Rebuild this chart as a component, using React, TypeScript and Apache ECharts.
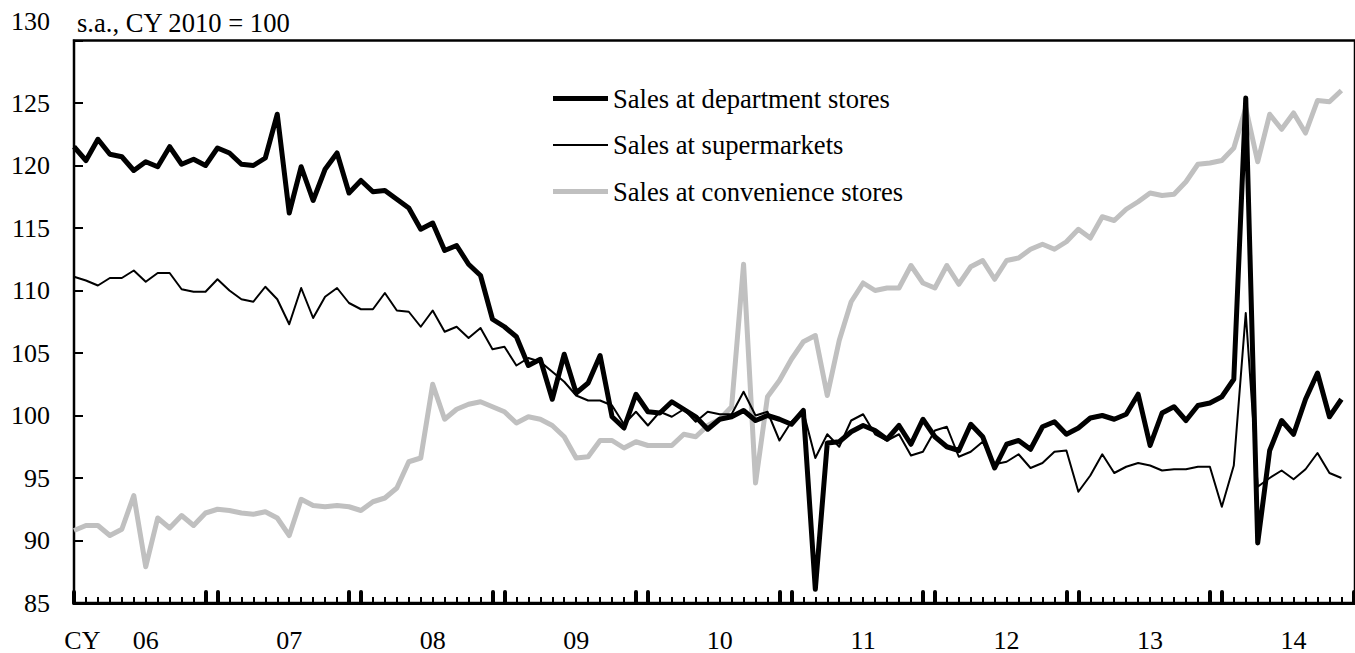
import React, { useEffect, useRef } from 'react';
import * as echarts from 'echarts';

// Monthly data, Jan 2006 .. Nov 2014 (s.a., CY2010 = 100)
const yearLabels = ['06', '07', '08', '09', '10', '11', '12', '13', '14'];
const cornerLabel = 'CY';
const titleText = 's.a., CY 2010 = 100';
const yMin = 85;
const yMax = 130;
const yStep = 5;

const seriesNames = [
  'Sales at department stores',
  'Sales at supermarkets',
  'Sales at convenience stores',
];

const department = [
  121.5, 120.4, 122.1, 120.9, 120.7, 119.6, 120.3, 119.9, 121.5, 120.1, 120.5, 120.0,
  121.4, 121.0, 120.1, 120.0, 120.6, 124.1, 116.2, 119.9, 117.2, 119.7, 121.0, 117.8,
  118.8, 117.9, 118.0, 117.3, 116.6, 114.9, 115.4, 113.2, 113.6, 112.1, 111.2, 107.7,
  107.1, 106.3, 104.0, 104.5, 101.3, 104.9, 101.8, 102.6, 104.8, 99.9, 99.0, 101.7,
  100.3, 100.2, 101.1, 100.5, 99.9, 98.9, 99.7, 99.9, 100.4, 99.6, 100.0, 99.7,
  99.3, 100.4, 86.1, 97.8, 97.9, 98.7, 99.2, 98.8, 98.1, 99.2, 97.7, 99.7,
  98.3, 97.5, 97.2, 99.3, 98.3, 95.8, 97.7, 98.0, 97.3, 99.1, 99.5, 98.5,
  99.0, 99.8, 100.0, 99.7, 100.1, 101.7, 97.6, 100.2, 100.7, 99.6, 100.8, 101.0,
  101.5, 102.9, 125.4, 89.8, 97.2, 99.6, 98.5, 101.3, 103.4, 99.9, 101.3,
];

const supermarkets = [
  111.1, 110.8, 110.4, 111.0, 111.0, 111.6, 110.7, 111.4, 111.4, 110.1, 109.9, 109.9,
  110.9, 110.0, 109.3, 109.1, 110.3, 109.3, 107.3, 110.2, 107.8, 109.5, 110.2, 109.0,
  108.5, 108.5, 109.8, 108.4, 108.3, 107.1, 108.4, 106.7, 107.1, 106.2, 107.0, 105.3,
  105.5, 104.0, 104.6, 104.3, 103.5, 102.7, 101.6, 101.2, 101.2, 100.8, 99.3, 100.3,
  99.2, 100.3, 99.9, 100.5, 99.5, 100.3, 100.1, 100.1, 101.9, 100.0, 100.3, 98.0,
  99.5, 100.3, 96.6, 98.5, 97.5, 99.6, 100.1, 98.5, 98.0, 98.5, 96.8, 97.1,
  98.8, 99.1, 96.7, 97.1, 97.9, 96.1, 96.3, 96.9, 95.8, 96.2, 97.1, 97.2,
  93.9, 95.2, 96.9, 95.4, 95.9, 96.2, 96.0, 95.6, 95.7, 95.7, 95.9, 95.9,
  92.7, 96.0, 108.2, 94.3, 95.0, 95.6, 94.9, 95.7, 97.0, 95.4, 95.0,
];

const convenience = [
  90.8, 91.2, 91.2, 90.4, 90.9, 93.6, 87.9, 91.8, 91.0, 92.0, 91.2, 92.2,
  92.5, 92.4, 92.2, 92.1, 92.3, 91.8, 90.4, 93.3, 92.8, 92.7, 92.8, 92.7,
  92.4, 93.1, 93.4, 94.2, 96.3, 96.6, 102.5, 99.7, 100.5, 100.9, 101.1, 100.7,
  100.3, 99.4, 99.9, 99.7, 99.2, 98.3, 96.6, 96.7, 98.0, 98.0, 97.4, 97.9,
  97.6, 97.6, 97.6, 98.5, 98.3, 99.2, 99.7, 100.7, 112.1, 94.6, 101.5, 102.8,
  104.5, 105.9, 106.4, 101.6, 106.0, 109.1, 110.6, 110.0, 110.2, 110.2, 112.0, 110.6,
  110.2, 112.0, 110.5, 111.9, 112.4, 110.9, 112.4, 112.6, 113.3, 113.7, 113.3, 113.9,
  114.9, 114.2, 115.9, 115.6, 116.5, 117.1, 117.8, 117.6, 117.7, 118.7, 120.1, 120.2,
  120.4, 121.4, 124.6, 120.3, 124.1, 122.9, 124.2, 122.6, 125.2, 125.1, 126.0,
];

const FONT = '"Liberation Serif", "Times New Roman", serif';

export default function App() {
  const ref = useRef<HTMLDivElement>(null);

  useEffect(() => {
    if (!ref.current) return;
    const chart = echarts.init(ref.current, null, { renderer: 'svg' });

    const monthsOnAxis = yearLabels.length * 12; // Jan 2006 .. Dec 2014
    const monthTicks = Array.from({ length: monthsOnAxis }, (_, i) => i);
    const thickTicks: number[] = [0];
    for (let k = 1; k <= yearLabels.length; k++) {
      thickTicks.push(12 * k - 1, 12 * k);
    }
    const cyPos = 0.7;
    const labelPos = [cyPos, ...yearLabels.map((_, k) => 12 * k + 6)];
    const labelText = [cornerLabel, ...yearLabels];

    const gridLeft = 74;
    const gridRight = -10;
    const monthPx = 12.05;
    const xMax = (1355 - gridLeft - gridRight) / monthPx;

    const toPairs = (arr: number[]) => arr.map((v, i) => [i, v]);
    const iconW = 55;
    const lineIcon = (h: number) => `path://M0,0H${iconW}V${h}H0Z`;

    const option: any = {
      animation: false,
      backgroundColor: '#ffffff',
      textStyle: { fontFamily: FONT },
      title: {
        text: titleText,
        left: 77,
        top: 9,
        padding: 0,
        textStyle: { fontFamily: FONT, fontSize: 26.6, fontWeight: 'normal', color: '#000' },
      },
      legend: {
        orient: 'vertical',
        left: 553,
        top: 85,
        padding: 0,
        itemWidth: iconW,
        itemHeight: 14,
        itemGap: 19.5,
        symbolKeepAspect: true,
        data: [
          { name: seriesNames[0], icon: lineIcon(5), itemStyle: { color: '#000' } },
          { name: seriesNames[1], icon: lineIcon(2), itemStyle: { color: '#000' } },
          { name: seriesNames[2], icon: lineIcon(5), itemStyle: { color: '#c0c0c0' } },
        ],
        textStyle: { fontFamily: FONT, fontSize: 26.6, color: '#000' },
      },
      grid: {
        left: gridLeft,
        right: gridRight,
        top: 40.5,
        bottom: 48,
        show: true,
        borderColor: '#000',
        borderWidth: 2.5,
        backgroundColor: 'transparent',
      },
      xAxis: [
        {
          type: 'value',
          min: 0,
          max: xMax,
          position: 'bottom',
          axisLine: { show: true, onZero: false, lineStyle: { color: '#000', width: 3 } },
          axisTick: {
            show: true,
            inside: true,
            length: 6,
            customValues: monthTicks,
            lineStyle: { color: '#000', width: 2 },
          },
          axisLabel: {
            show: true,
            margin: 24,
            customValues: labelPos,
            fontFamily: FONT,
            fontSize: 26,
            color: '#000',
            formatter: (v: number) => {
              const idx = labelPos.findIndex((p) => Math.abs(p - v) < 1e-6);
              return idx >= 0 ? labelText[idx] : '';
            },
          },
          splitLine: { show: false },
        },
        {
          type: 'value',
          min: 0,
          max: xMax,
          position: 'bottom',
          axisLine: { show: false },
          axisTick: {
            show: true,
            inside: true,
            length: 11,
            customValues: thickTicks,
            lineStyle: { color: '#000', width: 4, cap: 'round' },
          },
          axisLabel: { show: false },
          splitLine: { show: false },
        },
      ],
      yAxis: {
        type: 'value',
        min: yMin,
        max: yMax,
        interval: yStep,
        axisLine: { show: true, onZero: false, lineStyle: { color: '#000', width: 2 } },
        axisTick: { show: true, inside: true, length: 9, lineStyle: { color: '#000', width: 2 } },
        axisLabel: {
          margin: 24,
          fontFamily: FONT,
          fontSize: 26,
          color: '#000',
          formatter: (v: number) => (v === yMax ? '{t|' + v + '}' : String(v)),
          rich: {
            t: { fontFamily: FONT, fontSize: 26, color: '#000', padding: [0, 0, 38, 0] },
          },
        },
        splitLine: { show: false },
      },
      series: [
        {
          name: seriesNames[2],
          type: 'line',
          xAxisIndex: 0,
          data: toPairs(convenience),
          symbol: 'none',
          lineStyle: { color: '#c0c0c0', width: 5, join: 'round' },
          itemStyle: { color: '#c0c0c0' },
        },
        {
          name: seriesNames[1],
          type: 'line',
          xAxisIndex: 0,
          data: toPairs(supermarkets),
          symbol: 'none',
          lineStyle: { color: '#000', width: 2, join: 'round' },
          itemStyle: { color: '#000' },
        },
        {
          name: seriesNames[0],
          type: 'line',
          xAxisIndex: 0,
          data: toPairs(department),
          symbol: 'none',
          lineStyle: { color: '#000', width: 5, join: 'round' },
          itemStyle: { color: '#000' },
        },
      ],
    };

    chart.setOption(option);
    return () => chart.dispose();
  }, []);

  return (
    <div
      ref={ref}
      style={{ position: 'absolute', left: 0, top: 0, width: 1355, height: 653 }}
    />
  );
}
